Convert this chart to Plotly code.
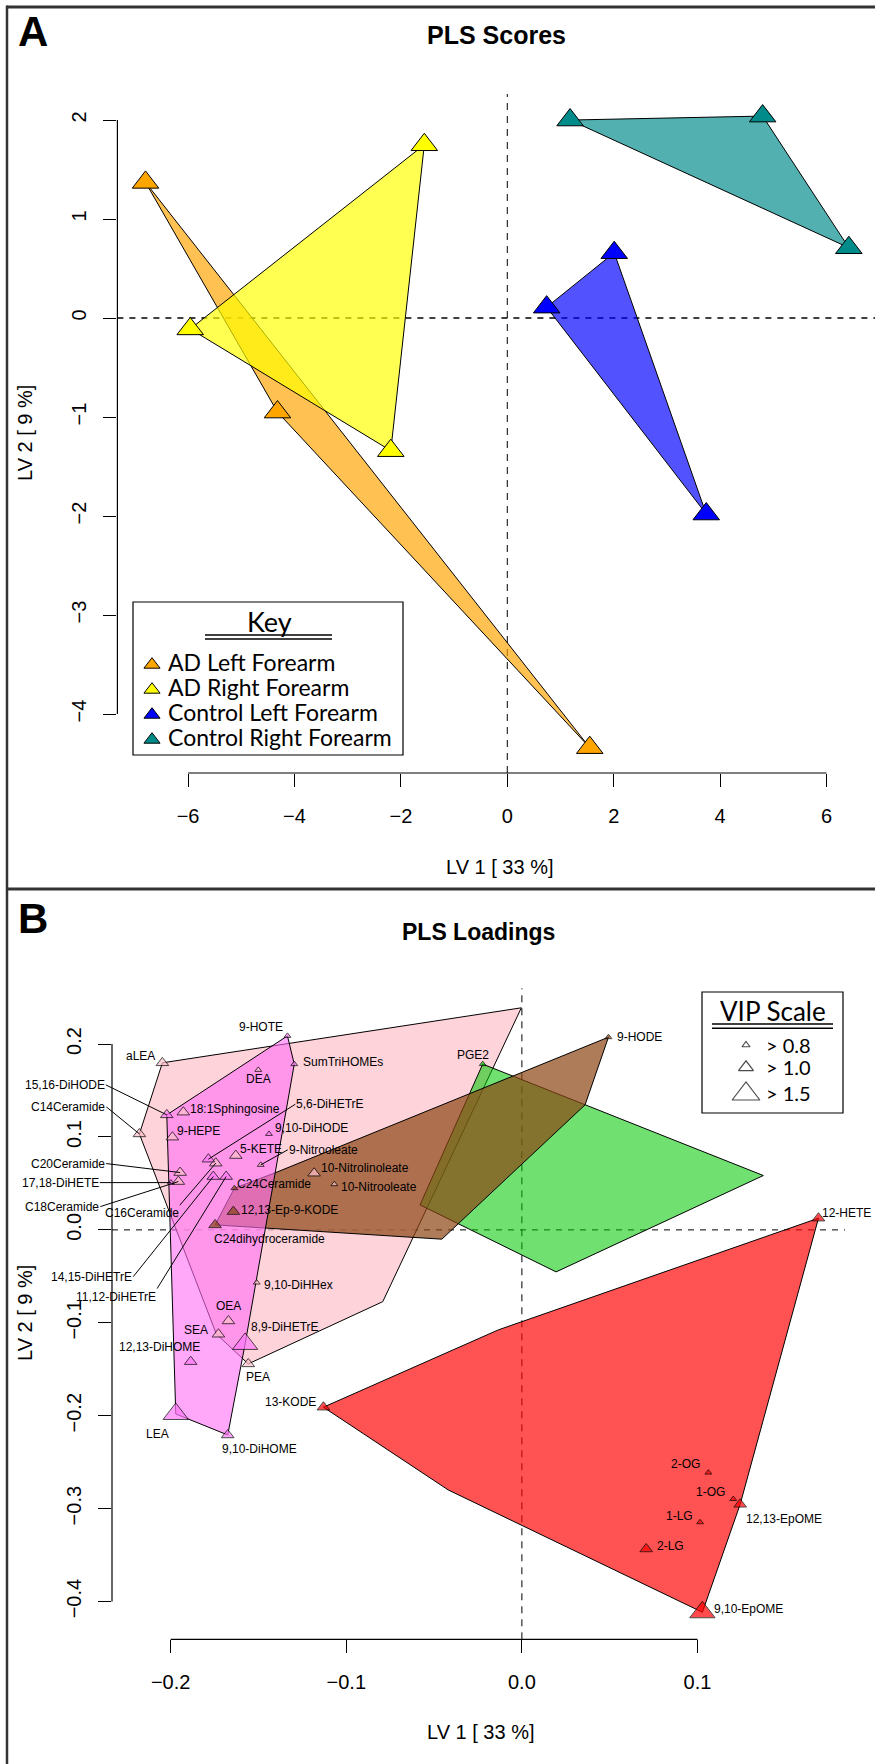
import plotly.graph_objects as go

W, H = 875, 1764

# ---------------- Panel A : PLS scores ----------------
A_groups = ["AD Left Forearm", "AD Right Forearm", "Control Left Forearm", "Control Right Forearm"]
A_colors = ["#FFA500", "#FFFF00", "#0000FF", "#008B8B"]
A_fills = ["rgba(255,165,0,0.68)", "rgba(255,255,0,0.68)", "rgba(0,0,255,0.68)", "rgba(0,139,139,0.68)"]
adl_lv1 = [-6.80, -4.32, 1.55]
adl_lv2 = [1.37, -0.95, -4.34]
adr_lv1 = [-1.56, -5.96, -2.19]
adr_lv2 = [1.75, -0.11, -1.34]
ctl_lv1 = [0.74, 2.01, 3.74]
ctl_lv2 = [0.11, 0.66, -1.98]
ctr_lv1 = [1.18, 4.80, 6.42]
ctr_lv2 = [2.00, 2.04, 0.71]
A_lv1 = [adl_lv1, adr_lv1, ctl_lv1, ctr_lv1]
A_lv2 = [adl_lv2, adr_lv2, ctl_lv2, ctr_lv2]
A_xticks = [-6, -4, -2, 0, 2, 4, 6]
A_yticks = [-4, -3, -2, -1, 0, 1, 2]

# ---------------- Panel B : PLS loadings ----------------
pink_names = ["aLEA", "C14Ceramide", "18:1Sphingosine", "9-HEPE", "DEA", "5-KETE", "9-Nitrooleate",
              "C16Ceramide", "C20Ceramide", "C18Ceramide", "10-Nitrolinoleate", "10-Nitrooleate",
              "9,10-DiHHex", "OEA", "SEA", "PEA"]
pink_lv1 = [-0.2047, -0.2178, -0.1928, -0.1990, -0.1501, -0.1629, -0.1487,
            -0.1743, -0.1946, -0.1956, -0.1183, -0.1068, -0.1510, -0.1671, -0.1728, -0.1558]
pink_lv2 = [0.1798, 0.1033, 0.1267, 0.0998, 0.1722, 0.0800, 0.0700,
            0.0718, 0.0617, 0.0520, 0.0610, 0.0492, -0.0567, -0.0980, -0.1123, -0.1442]
pink_vip = ["1.0", "1.0", "1.0", "1.0", "0.8", "1.0", "0.8",
            "1.0", "1.0", "1.0", "1.0", "0.8", "0.8", "1.0", "1.0", "1.0"]
pink_hull_lv1 = [-0.2047, -0.0003, -0.0792, -0.1558, -0.1740, -0.2178]
pink_hull_lv2 = [0.1798, 0.2390, -0.0772, -0.1442, -0.1120, 0.1033]

mag_names = ["15,16-DiHODE", "9-HOTE", "SumTriHOMEs", "9,10-DiHODE", "5,6-DiHETrE", "14,15-DiHETrE",
             "11,12-DiHETrE", "17,18-DiHETE", "8,9-DiHETrE", "12,13-DiHOME", "LEA", "9,10-DiHOME"]
mag_lv1 = [-0.2022, -0.1335, -0.1296, -0.1440, -0.1785, -0.1757,
           -0.1684, -0.1999, -0.1576, -0.1886, -0.1971, -0.1675]
mag_lv2 = [0.1238, 0.2088, 0.1784, 0.1033, 0.0761, 0.0574,
           0.0574, 0.0509, -0.1227, -0.1418, -0.1981, -0.2207]
mag_vip = ["1.0", "0.8", "0.8", "0.8", "1.0", "1.0", "1.0", "0.8", "1.5", "1.0", "1.5", "1.0"]
mag_hull_lv1 = [-0.2022, -0.1335, -0.1296, -0.1576, -0.1675, -0.1971]
mag_hull_lv2 = [0.1238, 0.2088, 0.1784, -0.1227, -0.2207, -0.1981]

brown_names = ["9-HODE", "C24Ceramide", "12,13-Ep-9-KODE", "C24dihydroceramide"]
brown_lv1 = [0.0493, -0.1637, -0.1643, -0.1747]
brown_lv2 = [0.2074, 0.0449, 0.0197, 0.0054]
brown_vip = ["0.8", "0.8", "1.0", "1.0"]
brown_hull_lv1 = [0.0493, 0.0360, -0.0456, -0.1747, -0.1637, -0.1405]
brown_hull_lv2 = [0.2074, 0.1346, -0.0100, 0.0054, 0.0449, 0.0614]

green_names = ["PGE2"]
green_lv1 = [-0.0223]
green_lv2 = [0.1784]
green_vip = ["0.8"]
green_hull_lv1 = [-0.0223, 0.1375, 0.0195, -0.0580]
green_hull_lv2 = [0.1784, 0.0585, -0.0452, 0.0269]

red_names = ["12-HETE", "13-KODE", "2-OG", "1-OG", "12,13-EpOME", "1-LG", "2-LG", "9,10-EpOME"]
red_lv1 = [0.1689, -0.1130, 0.1062, 0.1204, 0.1243, 0.1015, 0.0708, 0.1028]
red_lv2 = [0.0126, -0.1908, -0.2612, -0.2896, -0.2953, -0.3146, -0.3434, -0.4115]
red_vip = ["1.0", "1.0", "0.8", "0.8", "1.0", "0.8", "1.0", "1.5"]
red_hull_lv1 = [0.1689, 0.1243, 0.1028, -0.0419, -0.1130, -0.0134]
red_hull_lv2 = [0.0126, -0.2953, -0.4115, -0.2799, -0.1908, -0.1076]

B_xticks = [-0.2, -0.1, 0.0, 0.1]
B_yticks = [-0.4, -0.3, -0.2, -0.1, 0.0, 0.1, 0.2]
vip_levels = ["0.8", "1.0", "1.5"]

# ---------------- styling ----------------
FONT = "Liberation Sans, Arial, Helvetica, sans-serif"
LFONT = "Lato, Open Sans, sans-serif"
vip_size = {"0.8": 6, "1.0": 11, "1.5": 22}
B_groups = [
    ("pink", pink_names, pink_lv1, pink_lv2, pink_vip, pink_hull_lv1, pink_hull_lv2,
     "rgb(255,192,203)", "rgba(255,192,203,0.7)"),
    ("green", green_names, green_lv1, green_lv2, green_vip, green_hull_lv1, green_hull_lv2,
     "rgb(0,200,0)", "rgba(0,200,0,0.56)"),
    ("brown", brown_names, brown_lv1, brown_lv2, brown_vip, brown_hull_lv1, brown_hull_lv2,
     "rgb(139,69,19)", "rgba(139,69,19,0.7)"),
    ("magenta", mag_names, mag_lv1, mag_lv2, mag_vip, mag_hull_lv1, mag_hull_lv2,
     "rgb(255,120,250)", "rgba(255,110,245,0.6)"),
    ("red", red_names, red_lv1, red_lv2, red_vip, red_hull_lv1, red_hull_lv2,
     "rgb(255,0,0)", "rgba(255,0,0,0.68)"),
]

# label placement: (xanchor, dx px, dy px (down positive))
label_pos = {
    "aLEA": ("right", -5, -7), "9-HOTE": ("right", -2, -9), "SumTriHOMEs": ("left", 7, -2),
    "DEA": ("center", 0, 9), "18:1Sphingosine": ("left", 5, -3), "9,10-DiHODE": ("left", 4, -6),
    "9-HEPE": ("left", 3, -6), "5-KETE": ("left", 2, -7), "10-Nitrolinoleate": ("left", 5, -5),
    "10-Nitrooleate": ("left", 5, 3), "C24Ceramide": ("left", 1, -4),
    "12,13-Ep-9-KODE": ("left", 6, -2), "C24dihydroceramide": ("left", -3, 14),
    "9,10-DiHHex": ("left", 5, 2), "OEA": ("center", 0, -15), "SEA": ("right", -8, -4),
    "8,9-DiHETrE": ("left", 4, -17), "12,13-DiHOME": ("right", 11, -15), "PEA": ("center", 10, 13),
    "13-KODE": ("right", -5, -5), "LEA": ("center", -18, 20), "9,10-DiHOME": ("center", 32, 14),
    "PGE2": ("center", -10, -9), "9-HODE": ("left", 7, 0), "12-HETE": ("left", 2, -5),
    "2-OG": ("right", -6, -9), "1-OG": ("right", -6, -7), "1-LG": ("right", -5, -6),
    "2-LG": ("left", 9, -3), "12,13-EpOME": ("left", 4, 15), "9,10-EpOME": ("left", 10, -3),
}
# leader lines: (ax, ay, xanchor, yanchor)
leaders = {
    "15,16-DiHODE": (-61, -30, "right", "middle"), "C14Ceramide": (-33, -27, "right", "middle"),
    "5,6-DiHETrE": (87, -55, "left", "middle"), "9-Nitrooleate": (27, -15, "left", "middle"),
    "C20Ceramide": (-74, -9, "right", "middle"), "17,18-DiHETE": (-71, 0, "right", "middle"),
    "C18Ceramide": (-78, 25, "right", "middle"), "C16Ceramide": (-36, 42, "right", "top"),
    "14,15-DiHETrE": (-80, 100, "right", "middle"), "11,12-DiHETrE": (-69, 112, "right", "top"),
}


def P(x, y):
    return x / W, 1 - y / H


def minus(v, fmt):
    s = fmt.format(v)
    return s.replace("-", "\u2212")


fig = go.Figure()

# Panel A polygons + points
for g, col, fc, xs, ys in zip(A_groups, A_colors, A_fills, A_lv1, A_lv2):
    fig.add_trace(go.Scatter(x=xs + xs[:1], y=ys + ys[:1], mode="lines", fill="toself",
                             fillcolor=fc, line=dict(color="black", width=1),
                             hoverinfo="skip", showlegend=False, xaxis="x", yaxis="y"))
for g, col, xs, ys in zip(A_groups, A_colors, A_lv1, A_lv2):
    fig.add_trace(go.Scatter(x=xs, y=ys, mode="markers", name=g,
                             marker=dict(symbol="triangle-up", size=23, color=col,
                                         line=dict(color="black", width=1)),
                             cliponaxis=False, showlegend=False, xaxis="x", yaxis="y"))

# Panel B polygons
for (_, names, xs, ys, vip, hx, hy, mcol, fcol) in B_groups:
    fig.add_trace(go.Scatter(x=hx + hx[:1], y=hy + hy[:1], mode="lines", fill="toself",
                             fillcolor=fcol, line=dict(color="black", width=1),
                             hoverinfo="skip", showlegend=False, xaxis="x2", yaxis="y2"))
# Panel B points
for (_, names, xs, ys, vip, hx, hy, mcol, fcol) in B_groups:
    fig.add_trace(go.Scatter(x=xs, y=ys, mode="markers", text=names,
                             marker=dict(symbol="triangle-up", size=[vip_size[v] for v in vip],
                                         color=mcol, line=dict(color="black", width=1)),
                             cliponaxis=False, showlegend=False, xaxis="x2", yaxis="y2"))

annotations = []
for (_, names, xs, ys, vip, hx, hy, mcol, fcol) in B_groups:
    for n, x, y in zip(names, xs, ys):
        if n in leaders:
            ax, ay, xa, ya = leaders[n]
            annotations.append(dict(x=x, y=y, xref="x2", yref="y2", text=n, showarrow=True,
                                    arrowhead=0, arrowwidth=1, arrowcolor="black", ax=ax, ay=ay,
                                    xanchor=xa, yanchor=ya, standoff=0, borderpad=0,
                                    font=dict(family=FONT, size=12, color="black")))
        else:
            xa, dx, dy = label_pos[n]
            annotations.append(dict(x=x, y=y, xref="x2", yref="y2", text=n, showarrow=False,
                                    xanchor=xa, yanchor="middle", xshift=dx, yshift=-dy,
                                    font=dict(family=FONT, size=12, color="black")))

# Legend marks (pixel overlay axis)
key_rows_y = [661.7, 686.7, 711.7, 736.7]
fig.add_trace(go.Scatter(x=[152] * 4, y=[y + 3 for y in key_rows_y], mode="markers",
                         marker=dict(symbol="triangle-up", size=14, color=A_colors,
                                     line=dict(color="black", width=1)),
                         cliponaxis=False, showlegend=False, xaxis="x3", yaxis="y3"))
vip_rows_y = [1045, 1067.3, 1094]
fig.add_trace(go.Scatter(x=[746] * 3, y=vip_rows_y, mode="markers",
                         marker=dict(symbol="triangle-up", size=[7, 13, 24], color="white",
                                     line=dict(color="black", width=1.2)),
                         cliponaxis=False, showlegend=False, xaxis="x3", yaxis="y3"))

# text annotations (paper)
def txt(x, y, s, size, family=FONT, bold=False, angle=0, xa="center"):
    px, py = P(x, y)
    annotations.append(dict(x=px, y=py, xref="paper", yref="paper", text=("<b>%s</b>" % s) if bold else s,
                            showarrow=False, xanchor=xa, yanchor="middle", textangle=angle,
                            font=dict(family=family, size=size, color="black")))

txt(33, 32, "A", 42, bold=True)
txt(496, 35, "PLS Scores", 25, bold=True)
txt(499, 867, "LV 1 [ 33 %]", 20)
txt(25, 433, "LV 2 [ 9 %]", 20, angle=-90)
txt(33, 918, "B", 42, bold=True)
txt(479, 932, "PLS Loadings", 23, bold=True)
txt(480, 1732, "LV 1 [ 33 %]", 20)
txt(25, 1313, "LV 2 [ 9 %]", 20, angle=-90)
txt(269, 621, "Key", 27, family=LFONT)
for g, yy in zip(A_groups, key_rows_y):
    txt(166, yy, g, 23, family=LFONT, xa="left")
txt(772.7, 1011, "VIP Scale", 26, family=LFONT)
for v, yy in zip(vip_levels, [1045, 1067.3, 1093.3]):
    txt(764, yy, "> " + v, 20, family=LFONT, xa="left")

shapes = []
def pline(x0, y0, x1, y1, w=1, color="black"):
    a0, b0 = P(x0, y0)
    a1, b1 = P(x1, y1)
    shapes.append(dict(type="line", xref="paper", yref="paper", x0=a0, y0=b0, x1=a1, y1=b1,
                       line=dict(color=color, width=w)))

# frame
pline(7, 7, 875, 7, 3, "#333")
pline(7, 5.5, 7, 1764, 2.5, "#333")
pline(7, 889, 875, 889, 3, "#333")
# key box & underlines
for (x0, y0, x1, y1) in [(133, 602, 403, 755), (702, 992, 843, 1113)]:
    a0, b0 = P(x0, y0)
    a1, b1 = P(x1, y1)
    shapes.append(dict(type="rect", xref="paper", yref="paper", x0=a0, y0=b0, x1=a1, y1=b1,
                       line=dict(color="black", width=1.2)))
pline(205, 635, 332, 635, 1.6)
pline(205, 639, 332, 639, 1.6)
pline(712, 1024, 833, 1024, 1.6)
pline(712, 1028.3, 833, 1028.3, 1.6)

# axis lines (R style, from first to last tick)
shapes.append(dict(type="line", xref="x", yref="y domain", x0=min(A_xticks), x1=max(A_xticks), y0=0, y1=0,
                   line=dict(color="black", width=1.2)))
shapes.append(dict(type="line", xref="x domain", yref="y", x0=0, x1=0, y0=min(A_yticks), y1=max(A_yticks),
                   line=dict(color="black", width=1.2)))
shapes.append(dict(type="line", xref="x2", yref="y2 domain", x0=min(B_xticks), x1=max(B_xticks), y0=0, y1=0,
                   line=dict(color="black", width=1.2)))
shapes.append(dict(type="line", xref="x2 domain", yref="y2", x0=0, x1=0, y0=min(B_yticks), y1=max(B_yticks),
                   line=dict(color="black", width=1.2)))
# zero reference dashed lines (below traces)
for xr, yr, wv, wh in [("x", "y", 1, 1.6), ("x2", "y2", 1, 1)]:
    shapes.append(dict(type="line", xref=xr, yref=yr + " domain", x0=0, x1=0, y0=0, y1=1, layer="below",
                       line=dict(color="black", width=wv, dash="7px,6px")))
    shapes.append(dict(type="line", xref=xr + " domain", yref=yr, x0=0, x1=1, y0=0, y1=0, layer="below",
                       line=dict(color="black", width=wh, dash="6px,6px")))

tickfont = dict(family=FONT, size=20, color="black")
common = dict(showgrid=False, zeroline=False, showline=False, ticks="outside", ticklen=13,
              tickwidth=1.2, tickcolor="black", tickfont=tickfont)

fig.update_layout(
    width=W, height=H, margin=dict(l=0, r=0, t=0, b=0),
    paper_bgcolor="white", plot_bgcolor="rgba(0,0,0,0)", showlegend=False,
    xaxis=dict(domain=[117.4 / W, 1.0], range=[-7.329, 6.912], anchor="y",
               tickvals=A_xticks, ticktext=[minus(v, "{:d}") for v in A_xticks],
               ticklabelstandoff=12, **common),
    yaxis=dict(domain=[1 - 773 / H, 1 - 94 / H], range=[-4.596, 2.263], anchor="x",
               tickvals=A_yticks, ticktext=[minus(v, "{:d}") for v in A_yticks], tickangle=-90,
               ticklabelstandoff=9, **common),
    xaxis2=dict(domain=[112 / W, 845 / W], range=[-0.2334, 0.184], anchor="y2",
                tickvals=B_xticks, ticktext=[minus(v, "{:.1f}") for v in B_xticks],
                ticklabelstandoff=12, **common),
    yaxis2=dict(domain=[1 - 1639.3 / H, 1 - 988.3 / H], range=[-0.4406, 0.26], anchor="x2",
                tickvals=B_yticks, ticktext=[minus(v, "{:.1f}") for v in B_yticks], tickangle=-90,
                ticklabelstandoff=9, **common),
    xaxis3=dict(domain=[0, 1], range=[0, W], anchor="y3", visible=False),
    yaxis3=dict(domain=[0, 1], range=[H, 0], anchor="x3", visible=False),
    annotations=annotations, shapes=shapes,
)

fig.write_html("out.html")
